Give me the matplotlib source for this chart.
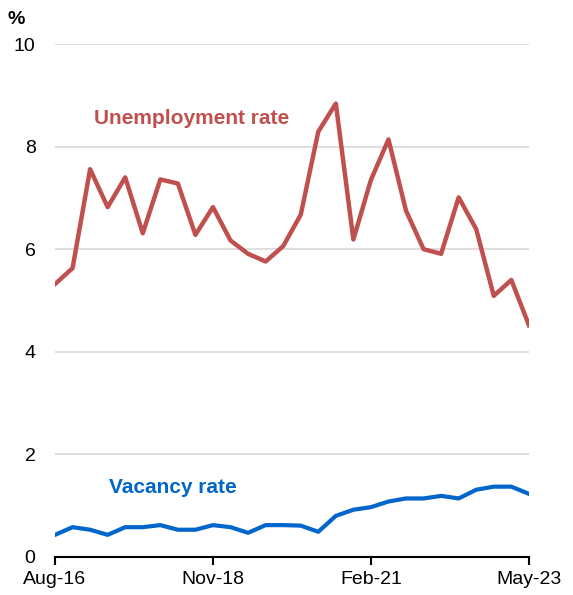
import matplotlib.pyplot as plt
import numpy as np

plt.rcParams['font.family'] = ['Liberation Sans', 'DejaVu Sans']

# quarterly, Aug-16 .. May-23
unemployment = [5.32, 5.63, 7.56, 6.82, 7.40, 6.31, 7.36, 7.28, 6.28, 6.82,
                6.17, 5.91, 5.76, 6.06, 6.67, 8.29, 8.84, 6.19, 7.35, 8.14,
                6.75, 6.00, 5.91, 7.01, 6.39, 5.09, 5.40, 4.52]
vacancy = [0.43, 0.58, 0.53, 0.43, 0.58, 0.58, 0.62, 0.53, 0.53, 0.62,
           0.58, 0.47, 0.62, 0.62, 0.61, 0.49, 0.80, 0.92, 0.97,
           1.08, 1.14, 1.14, 1.19, 1.14, 1.31, 1.37, 1.37, 1.23]
tick_pos = [0, 9, 18, 27]
tick_labels = ["Aug-16", "Nov-18", "Feb-21", "May-23"]

red = "#C0504D"
blue = "#0066CC"

fig = plt.figure(figsize=(5.73, 5.95), dpi=100)
ax = fig.add_axes([0.096, 0.064, 0.827, 0.862])

x = np.arange(len(unemployment))
ax.plot(x, unemployment, color=red, lw=3.2, zorder=3)
ax.plot(np.arange(len(vacancy)), vacancy, color=blue, lw=3.0, zorder=3)

ax.set_xlim(0, 27)
ax.set_ylim(0, 10)
ax.set_yticks([0, 2, 4, 6, 8, 10])
ax.yaxis.grid(True, color="#d9d9d9", lw=1.2)
ax.set_axisbelow(True)
for s in ["top", "right", "left"]:
    ax.spines[s].set_visible(False)
ax.spines["bottom"].set_linewidth(1.5)
ax.tick_params(axis="y", length=0, labelsize=14, pad=14)
ax.set_xticks(tick_pos)
ax.set_xticklabels(tick_labels)
ax.tick_params(axis="x", direction="out", length=6, width=1.5, labelsize=14, pad=4)

ax.text(-0.1, 1.04, "%", transform=ax.transAxes, fontsize=14, fontweight="bold")
ax.text(2.2, 8.45, "Unemployment rate", color=red, fontsize=15, fontweight="bold")
ax.text(3.1, 1.25, "Vacancy rate", color=blue, fontsize=15, fontweight="bold")

fig.savefig("out.png", dpi=100)
